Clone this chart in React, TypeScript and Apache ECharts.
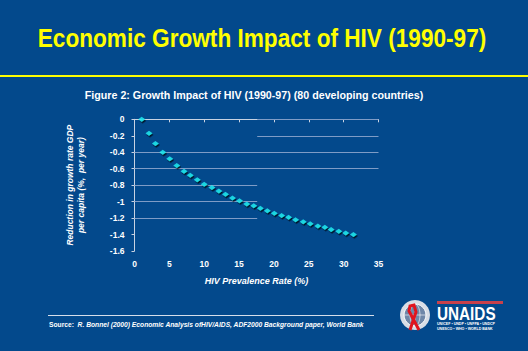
import React, { useEffect, useRef } from "react";
import * as echarts from "echarts";

const prevalence = [1.03, 2.08, 3.0, 4.05, 5.05, 6.06, 7.1, 8.0, 9.0, 10.0, 11.1, 12.1, 13.05, 14.05, 15.06, 16.1, 17.1, 18.05, 19.05, 20.05, 21.1, 22.1, 23.1, 24.2, 25.2, 26.3, 27.3, 28.2, 29.3, 30.3, 31.4];
const reduction = [0, -0.17, -0.295, -0.4, -0.48, -0.56, -0.63, -0.68, -0.735, -0.79, -0.83, -0.87, -0.91, -0.955, -0.99, -1.03, -1.05, -1.08, -1.11, -1.14, -1.17, -1.19, -1.22, -1.245, -1.27, -1.295, -1.31, -1.34, -1.36, -1.38, -1.4];
const rightGridValues = [0, -0.2];
const fullGridValues = [-0.4, -0.6];
const leftGridValues = [-0.8, -1, -1.2];
const gridSplitX = 17.6;

const titleText = "Economic Growth Impact of HIV (1990-97)";
const subtitleText = "Figure 2: Growth Impact of HIV (1990-97) (80 developing countries)";
const xAxisName = "HIV Prevalence Rate (%)";
const yAxisName = "Reduction in growth rate GDP\nper capita (%,  per year)";

export default function App() {
  const ref = useRef<HTMLDivElement>(null);
  useEffect(() => {
    document.body.style.margin = "0";
    const chart = echarts.init(ref.current!, null, { renderer: "svg" });
    const points = prevalence.map((x, i) => [x, reduction[i]]);
    const gridLineStyle = { color: "#7f9cc6", width: 1, type: "solid" as const };
    const markData: any[] = [];
    rightGridValues.forEach((v) => markData.push([{ coord: [gridSplitX, v] }, { coord: [35, v] }]));
    fullGridValues.forEach((v) => markData.push([{ coord: [0, v] }, { coord: [35, v] }]));
    leftGridValues.forEach((v) => markData.push([{ coord: [0, v] }, { coord: [gridSplitX, v] }]));

    chart.setOption({
      animation: false,
      backgroundColor: "#03498c",
      textStyle: { fontFamily: "Liberation Sans, Arial, sans-serif" },
      grid: { left: 134.5, top: 119.3, width: 244, height: 131.7, containLabel: false },
      xAxis: {
        type: "value",
        min: 0,
        max: 35,
        interval: 5,
        name: xAxisName,
        nameLocation: "middle",
        nameGap: 25,
        nameTextStyle: { color: "#ffffff", fontSize: 9, fontWeight: "bold", fontStyle: "italic" },
        axisLine: { lineStyle: { color: "#c8d2e2", width: 1 } },
        axisTick: { show: true, length: 3, lineStyle: { color: "#c8d2e2" } },
        axisLabel: { color: "#ffffff", fontSize: 8.5, fontWeight: "bold", margin: 8 },
        splitLine: { show: false },
      },
      yAxis: {
        type: "value",
        min: -1.6,
        max: 0,
        interval: 0.2,
        name: yAxisName,
        nameLocation: "middle",
        nameGap: 48,
        nameRotate: 90,
        nameTextStyle: { color: "#ffffff", fontSize: 8.5, fontWeight: "bold", fontStyle: "italic", lineHeight: 11, align: "center" },
        axisLine: { show: true, lineStyle: { color: "#c8d2e2", width: 1 } },
        axisTick: { show: true, length: 3, lineStyle: { color: "#c8d2e2" } },
        axisLabel: {
          color: "#ffffff",
          fontSize: 8.5,
          fontWeight: "bold",
          margin: 10,
          formatter: (v: number) => String(Math.round(v * 10) / 10),
        },
        splitLine: { show: false },
      },
      series: [
        {
          type: "scatter",
          data: points,
          symbol: "diamond",
          symbolSize: [7, 5],
          itemStyle: {
            color: "#22f2f6",
            shadowColor: "rgba(0,0,0,0.9)",
            shadowBlur: 0,
            shadowOffsetX: 1,
            shadowOffsetY: 1.5,
          },
          markLine: {
            silent: true,
            symbol: "none",
            label: { show: false },
            lineStyle: gridLineStyle,
            data: markData,
            z: 1,
          },
          z: 3,
        },
      ],
      graphic: [
        {
          type: "text",
          x: 262,
          y: 38,
          scaleX: 0.87,
          style: {
            text: titleText,
            fill: "#ffff00",
            align: "center",
            verticalAlign: "middle",
            font: "bold 26px 'Liberation Sans', Arial, sans-serif",
            textShadowColor: "#000000",
            textShadowOffsetX: 2,
            textShadowOffsetY: 2,
            textShadowBlur: 0,
          },
        },
        { type: "rect", shape: { x: 0, y: 75, width: 528, height: 2 }, style: { fill: "#ffff00" } },
        {
          type: "text",
          x: 254,
          y: 95,
          style: {
            text: subtitleText,
            fill: "#ffffff",
            align: "center",
            verticalAlign: "middle",
            font: "bold 10.7px 'Liberation Sans', Arial, sans-serif",
          },
        },
        { type: "line", shape: { x1: 48, y1: 315.5, x2: 374, y2: 315.5 }, style: { stroke: "#d6deea", lineWidth: 1 } },
        {
          type: "text",
          x: 49,
          y: 321,
          style: {
            text: "{a|Source:}  {b|R. Bonnel (2000) Economic Analysis ofHIV/AIDS, ADF2000 Background paper, World Bank}",
            rich: {
              a: { fill: "#ffffff", font: "bold 6.7px 'Liberation Sans', Arial, sans-serif" },
              b: { fill: "#ffffff", font: "italic bold 6.7px 'Liberation Sans', Arial, sans-serif" },
            },
            fill: "#ffffff",
            font: "bold 6.7px 'Liberation Sans', Arial, sans-serif",
          },
        },
        // UNAIDS logo (approximate)
        {
          type: "group",
          children: [
            { type: "circle", shape: { cx: 415, cy: 315, r: 15 }, style: { fill: "#d8dde6" } },
            { type: "circle", shape: { cx: 415, cy: 315, r: 11 }, style: { fill: "#6f87a8", stroke: "#ffffff", lineWidth: 1 } },
            { type: "line", shape: { x1: 404, y1: 315, x2: 426, y2: 315 }, style: { stroke: "#ffffff", lineWidth: 0.6 } },
            { type: "line", shape: { x1: 415, y1: 304, x2: 415, y2: 326 }, style: { stroke: "#ffffff", lineWidth: 0.6 } },
            { type: "ellipse", shape: { cx: 415, cy: 315, rx: 5, ry: 11 }, style: { fill: "none", stroke: "#ffffff", lineWidth: 0.6 } },
            {
              type: "polyline",
              shape: { points: [[410, 330], [416, 312], [414, 305], [410, 306], [409, 311], [419, 330]] },
              style: { stroke: "#e0141e", lineWidth: 3, fill: "none" },
            },
          ],
        },
        { type: "rect", shape: { x: 437, y: 301, width: 66, height: 3 }, style: { fill: "#c8414b" } },
        {
          type: "text",
          x: 437,
          y: 305,
          scaleX: 0.85,
          style: { text: "UNAIDS", fill: "#ffffff", font: "bold 18px 'Liberation Sans', Arial, sans-serif" },
        },
        {
          type: "text",
          x: 437,
          y: 322,
          style: { text: "UNICEF • UNDP • UNFPA • UNDCP", fill: "#ffffff", font: "bold 3.6px 'Liberation Sans', Arial, sans-serif" },
        },
        {
          type: "text",
          x: 437,
          y: 327,
          style: { text: "UNESCO • WHO • WORLD BANK", fill: "#ffffff", font: "bold 3.6px 'Liberation Sans', Arial, sans-serif" },
        },
      ],
    });
    return () => chart.dispose();
  }, []);
  return <div ref={ref} style={{ width: 528, height: 351 }} />;
}
